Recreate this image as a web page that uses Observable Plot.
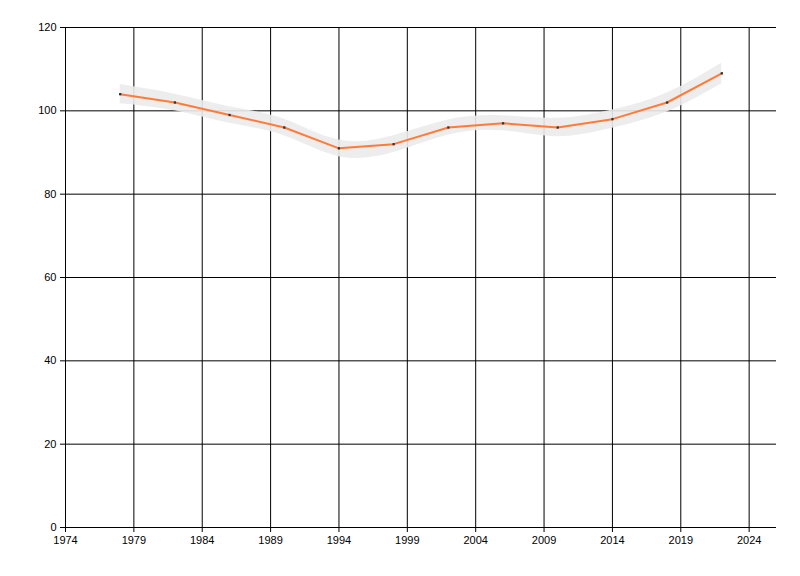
<!DOCTYPE html>
<html>
<head>
<meta charset="utf-8">
<script src="https://cdn.jsdelivr.net/npm/d3@7"></script>
<script src="https://cdn.jsdelivr.net/npm/@observablehq/plot@0.6"></script>
<style>
  body { margin: 0; background: #fff; }
  #chart svg { display: block; }
</style>
</head>
<body>
<div id="chart"></div>
<script>
const years = [1978, 1982, 1986, 1990, 1994, 1998, 2002, 2006, 2010, 2014, 2018, 2022];
const values = [104, 102, 99, 96, 91, 92, 96, 97, 96, 98, 102, 109];
const lower = [101.7, 100, 97, 94, 89, 90, 94.2, 95.2, 93.8, 95.8, 99.7, 106.5];
const upper = [106.3, 104, 101, 98, 93, 94, 97.8, 98.8, 98.2, 100.2, 104.3, 111.5];
const xTicks = [1974, 1979, 1984, 1989, 1994, 1999, 2004, 2009, 2014, 2019, 2024];
const yTicks = [0, 20, 40, 60, 80, 100, 120];

const data = years.map((year, i) => ({year, value: values[i], lo: lower[i], hi: upper[i]}));

const chart = Plot.plot({
  width: 800,
  height: 576,
  marginLeft: 65,
  marginRight: 24,
  marginTop: 27,
  marginBottom: 49,
  style: {fontFamily: "Liberation Sans, Arial, sans-serif", fontSize: "11px", color: "#000"},
  x: {domain: [1974, 2026], ticks: xTicks, tickFormat: "d", tickSize: 5, label: null},
  y: {domain: [0, 120], ticks: yTicks, tickSize: 5, label: null},
  marks: [
    Plot.gridX(xTicks, {stroke: "#000", strokeOpacity: 1}),
    Plot.gridY(yTicks, {stroke: "#000", strokeOpacity: 1}),
    Plot.ruleY([0], {stroke: "#000"}),
    Plot.ruleX([1974], {stroke: "#000"}),
    Plot.areaY(data, {x: "year", y1: "lo", y2: "hi", curve: "natural", fill: "#ebebeb", fillOpacity: 0.9}),
    Plot.lineY(data, {x: "year", y: "value", stroke: "#ff7b39", strokeWidth: 2}),
    Plot.dot(data, {x: "year", y: "value", symbol: "square", r: 1.3, fill: "#333", stroke: null})
  ]
});
d3.select("#chart").append(() => chart);
</script>
</body>
</html>
